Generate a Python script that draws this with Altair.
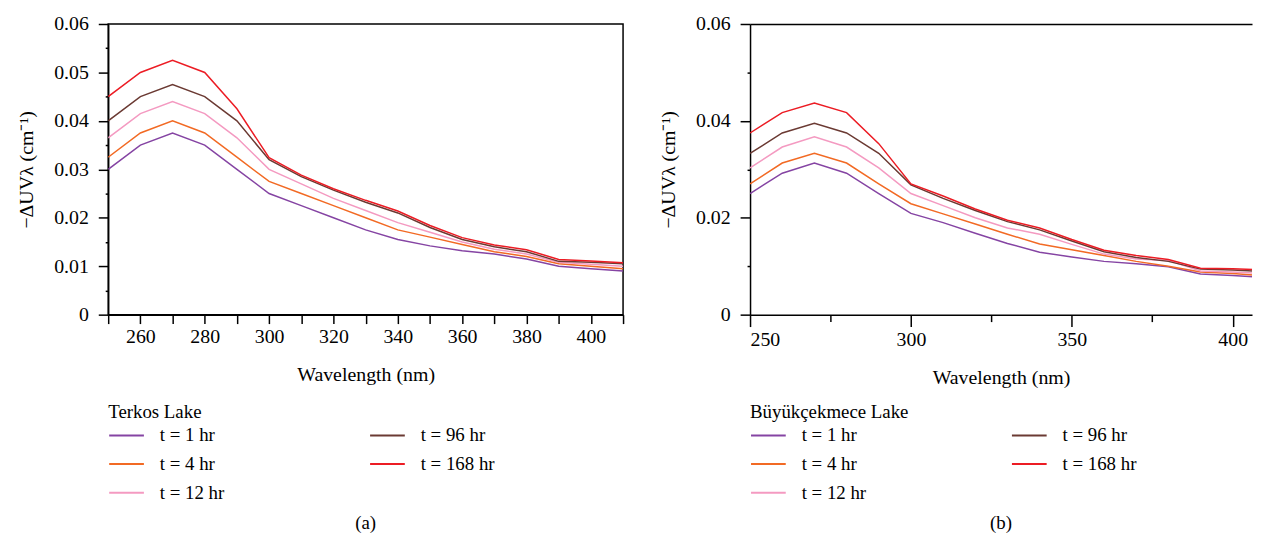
import altair as alt
import pandas as pd

wavelengths = [250, 260, 270, 280, 290, 300, 310, 320, 330, 340, 350, 360, 370, 380, 390, 400, 410]
series_names = ["t = 1 hr", "t = 4 hr", "t = 12 hr", "t = 96 hr", "t = 168 hr"]
series_colors = ["#8544a3", "#f26a24", "#f49ac1", "#6b3a33", "#ec1c24"]

terkos_t1 = [0.0300, 0.0350, 0.0375, 0.0350, 0.0300, 0.0250, 0.0225, 0.0200, 0.0175, 0.0155, 0.0142, 0.0132, 0.0125, 0.0115, 0.0100, 0.0095, 0.0090]
terkos_t4 = [0.0325, 0.0375, 0.0400, 0.0375, 0.0325, 0.0275, 0.0250, 0.0225, 0.0200, 0.0175, 0.0160, 0.0145, 0.0130, 0.0120, 0.0105, 0.0100, 0.0095]
terkos_t12 = [0.0365, 0.0415, 0.0440, 0.0415, 0.0365, 0.0300, 0.0270, 0.0240, 0.0215, 0.0190, 0.0170, 0.0150, 0.0135, 0.0125, 0.0108, 0.0104, 0.0100]
terkos_t96 = [0.0400, 0.0450, 0.0475, 0.0450, 0.0400, 0.0320, 0.0285, 0.0257, 0.0232, 0.0210, 0.0180, 0.0155, 0.0140, 0.0130, 0.0110, 0.0108, 0.0105]
terkos_t168 = [0.0450, 0.0500, 0.0525, 0.0500, 0.0425, 0.0324, 0.0288, 0.0260, 0.0236, 0.0214, 0.0184, 0.0159, 0.0144, 0.0134, 0.0114, 0.0111, 0.0107]

buyuk_t1 = [0.0250, 0.0292, 0.0313, 0.0292, 0.0250, 0.0209, 0.0190, 0.0168, 0.0147, 0.0129, 0.0119, 0.0110, 0.0105, 0.0099, 0.0084, 0.0081, 0.0077]
buyuk_t4 = [0.0270, 0.0313, 0.0333, 0.0313, 0.0270, 0.0229, 0.0208, 0.0187, 0.0166, 0.0146, 0.0134, 0.0122, 0.0110, 0.0100, 0.0088, 0.0085, 0.0080]
buyuk_t12 = [0.0303, 0.0346, 0.0367, 0.0346, 0.0303, 0.0250, 0.0225, 0.0200, 0.0179, 0.0166, 0.0145, 0.0125, 0.0115, 0.0112, 0.0090, 0.0088, 0.0085]
buyuk_t96 = [0.0333, 0.0375, 0.0395, 0.0375, 0.0333, 0.0268, 0.0240, 0.0215, 0.0192, 0.0175, 0.0152, 0.0130, 0.0118, 0.0110, 0.0094, 0.0092, 0.0089]
buyuk_t168 = [0.0375, 0.0417, 0.0437, 0.0417, 0.0353, 0.0270, 0.0245, 0.0218, 0.0195, 0.0179, 0.0155, 0.0133, 0.0122, 0.0114, 0.0096, 0.0095, 0.0092]

FONT = "Liberation Serif"


def long_df(values_by_series):
    rows = []
    for name, vals in zip(series_names, values_by_series):
        for w, v in zip(wavelengths, vals):
            rows.append({"wl": w, "val": v, "series": name})
    return pd.DataFrame(rows)


axis_style = dict(
    labelFont=FONT, labelFontSize=20, labelColor="black",
    titleFont=FONT, titleFontSize=20, titleColor="black", titleFontWeight="normal",
    domainColor="black", domainWidth=1.5, tickColor="black", tickWidth=1.5, grid=False,
)
Y_LABEL = "datum.value == 0 ? '0' : format(datum.value, '.2f')"


def panel(df, lake, caption, xdom, width, x_major, x_major_size, x_label_expr,
          x_minor, y_major, y_minor, boxed):
    xscale = alt.Scale(domain=xdom, nice=False, zero=False)
    yscale = alt.Scale(domain=[0, 0.06], nice=False)
    cscale = alt.Scale(domain=series_names, range=series_colors)

    main = alt.Chart(df).mark_line(strokeWidth=1.5, clip=True).encode(
        x=alt.X("wl:Q", scale=xscale, axis=alt.Axis(
            orient="bottom", values=x_major, tickSize=x_major_size, labelExpr=x_label_expr,
            labelPadding=3, title="Wavelength (nm)", titlePadding=18, **axis_style)),
        y=alt.Y("val:Q", scale=yscale, axis=alt.Axis(
            orient="left", values=y_major, tickSize=10, labelExpr=Y_LABEL,
            labelPadding=10, title="−ΔUVλ (cm⁻¹)", titlePadding=17, **axis_style)),
        color=alt.Color("series:N", scale=cscale, legend=alt.Legend(
            title=lake, orient="none", legendX=0, legendY=382, columns=2,
            columnPadding=142, rowPadding=-20, symbolType="stroke", symbolSize=1225,
            symbolStrokeWidth=2, labelFont=FONT, labelFontSize=19, labelColor="black",
            titleFont=FONT, titleFontSize=19, titleFontWeight="normal", titleColor="black",
            titleLimit=400, labelOffset=15, titlePadding=-5)),
    )

    minor_x_axis = alt.Axis(orient="bottom", values=x_minor, tickSize=7, labels=False,
                            domain=False, title=None, **axis_style)
    minor = alt.Chart(df).mark_line(opacity=0, clip=True).encode(
        x=alt.X("wl:Q", scale=xscale, axis=minor_x_axis if x_minor else None),
        y=alt.Y("val:Q", scale=yscale, axis=alt.Axis(
            orient="left", values=y_minor, tickSize=3, labels=False, domain=False,
            title=None, **axis_style)),
        detail="series:N",
    )
    layers = [main, minor]
    if not boxed:
        top = alt.Chart(df).mark_line(opacity=0, clip=True).encode(
            x=alt.X("wl:Q", scale=xscale, axis=alt.Axis(
                orient="top", ticks=False, labels=False, title=None, **axis_style)),
            y=alt.Y("val:Q", scale=yscale, axis=None),
            detail="series:N",
        )
        layers.append(top)

    view = (alt.ViewBackground(stroke="black", strokeWidth=1.5) if boxed
            else alt.ViewBackground(stroke="transparent"))
    return alt.layer(*layers).resolve_axis(x="independent", y="independent").properties(
        width=width, height=293, view=view,
        title=alt.TitleParams(caption, orient="bottom", anchor="middle", font=FONT,
                              fontSize=19, fontWeight="normal", color="black", offset=11),
    )


df_a = long_df([terkos_t1, terkos_t4, terkos_t12, terkos_t96, terkos_t168])
df_b = long_df([buyuk_t1, buyuk_t4, buyuk_t12, buyuk_t96, buyuk_t168])

left = panel(df_a, "Terkos Lake", "(a)", [250, 410], 519,
             list(range(250, 411, 10)), 9, "datum.value % 20 == 0 ? datum.label : ''",
             [], [0, 0.01, 0.02, 0.03, 0.04, 0.05, 0.06],
             [0.005, 0.015, 0.025, 0.035, 0.045, 0.055], True)
right = panel(df_b, "Büyükçekmece Lake", "(b)", [250, 406], 506,
              [250, 300, 350, 400], 12, "datum.label",
              [275, 325, 375], [0, 0.02, 0.04, 0.06], [0.01, 0.03, 0.05], False)

chart = alt.hconcat(left, right, spacing=33).resolve_scale(color="independent").configure(
    padding={"left": 8, "top": 3, "right": 0, "bottom": 0}
)

chart.save("out.html", embed_options={"renderer": "svg", "actions": False})
